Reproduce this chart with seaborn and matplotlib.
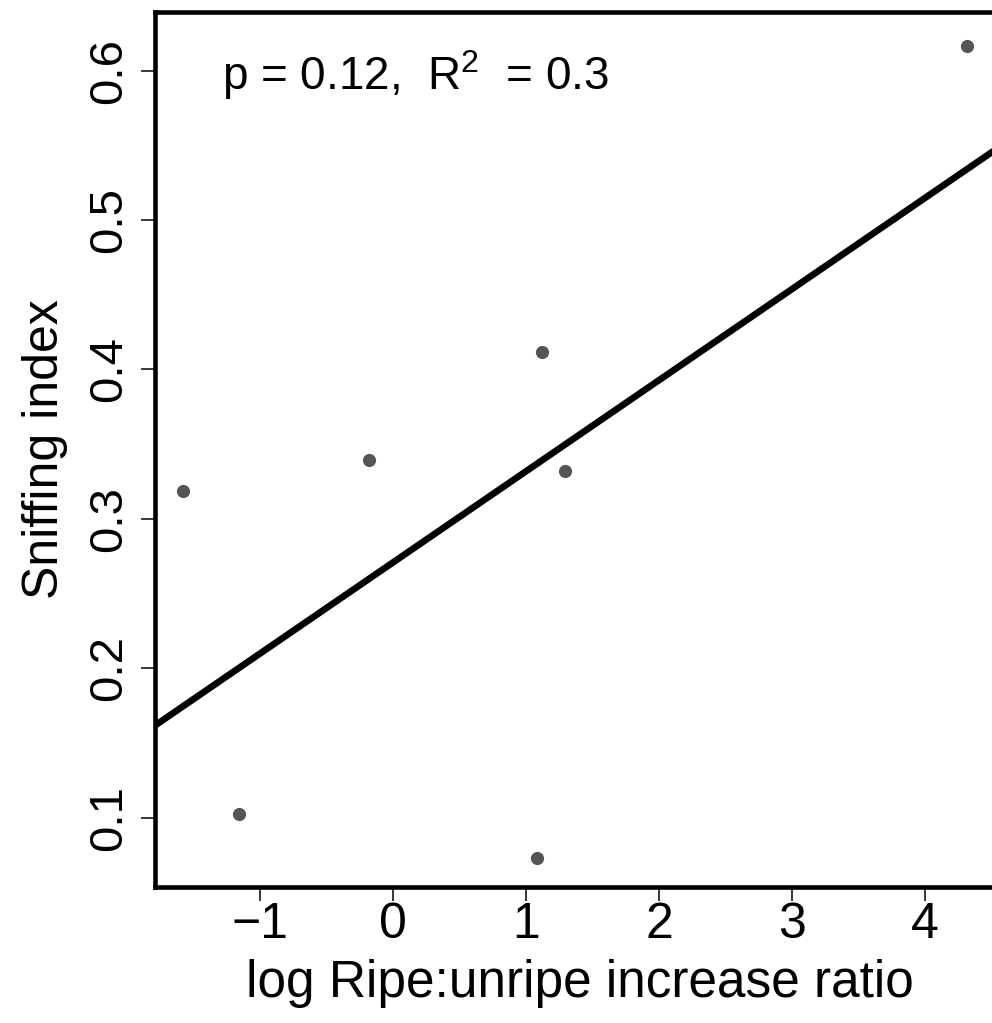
import matplotlib
matplotlib.use("Agg")
import matplotlib.pyplot as plt
import numpy as np
import pandas as pd
import seaborn as sns

# values
log_ratio = [-1.579, -1.158, -0.180, 1.120, 1.083, 1.293, 4.316]
sniffing = [0.3187, 0.1025, 0.3395, 0.412, 0.0731, 0.332, 0.6165]
x_ticks = [-1, 0, 1, 2, 3, 4]
y_ticks = [0.1, 0.2, 0.3, 0.4, 0.5, 0.6]

df = pd.DataFrame({"log_ratio": log_ratio, "sniffing": sniffing})

sns.set_style("ticks")
plt.rcParams["font.family"] = ["Liberation Sans", "DejaVu Sans"]
plt.rcParams["mathtext.fontset"] = "custom"
plt.rcParams["mathtext.rm"] = "Liberation Sans"
plt.rcParams["mathtext.it"] = "Liberation Sans"
plt.rcParams["text.color"] = "black"
plt.rcParams["axes.labelcolor"] = "black"
plt.rcParams["xtick.color"] = "black"
plt.rcParams["ytick.color"] = "black"

fig = plt.figure(figsize=(9.92, 10.23), dpi=100)
ax = fig.add_axes([0.1562, 0.1329, 0.8569, 0.8554])
ax.set_xlim(-1.789, 4.602)
ax.set_ylim(0.0536, 0.6393)

sns.regplot(data=df, x="log_ratio", y="sniffing", ax=ax, ci=None, truncate=False,
            scatter_kws=dict(s=90, color="#555555", linewidths=0, alpha=1),
            line_kws=dict(color="black", lw=4.8))

ax.set_xlim(-1.789, 4.602)
ax.set_ylim(0.0536, 0.6393)
ax.set_xticks(x_ticks)
ax.set_xticklabels(["\u22121", "0", "1", "2", "3", "4"])
ax.set_yticks(y_ticks)
ax.set_yticklabels([f"{v:.1f}" for v in y_ticks])

for side in ["left", "bottom", "top"]:
    ax.spines[side].set_linewidth(3.3)
    ax.spines[side].set_color("black")
ax.spines["right"].set_visible(False)

ax.tick_params(axis="both", length=10, width=1.1, color="black")
ax.tick_params(axis="x", pad=1, labelsize=36)
ax.tick_params(axis="y", pad=7, labelrotation=90, labelsize=34)
for lab in ax.get_yticklabels():
    lab.set_va("center")

ax.set_xlabel("log Ripe:unripe increase ratio", fontsize=37, labelpad=8)
ax.set_ylabel("Sniffing index", fontsize=36, labelpad=14)

ax.text(0.079, 0.928, "p = 0.12,  R$^{2}$  = 0.3", transform=ax.transAxes,
        fontsize=33, ha="left", va="center")

fig.savefig("out.png", dpi=100)
